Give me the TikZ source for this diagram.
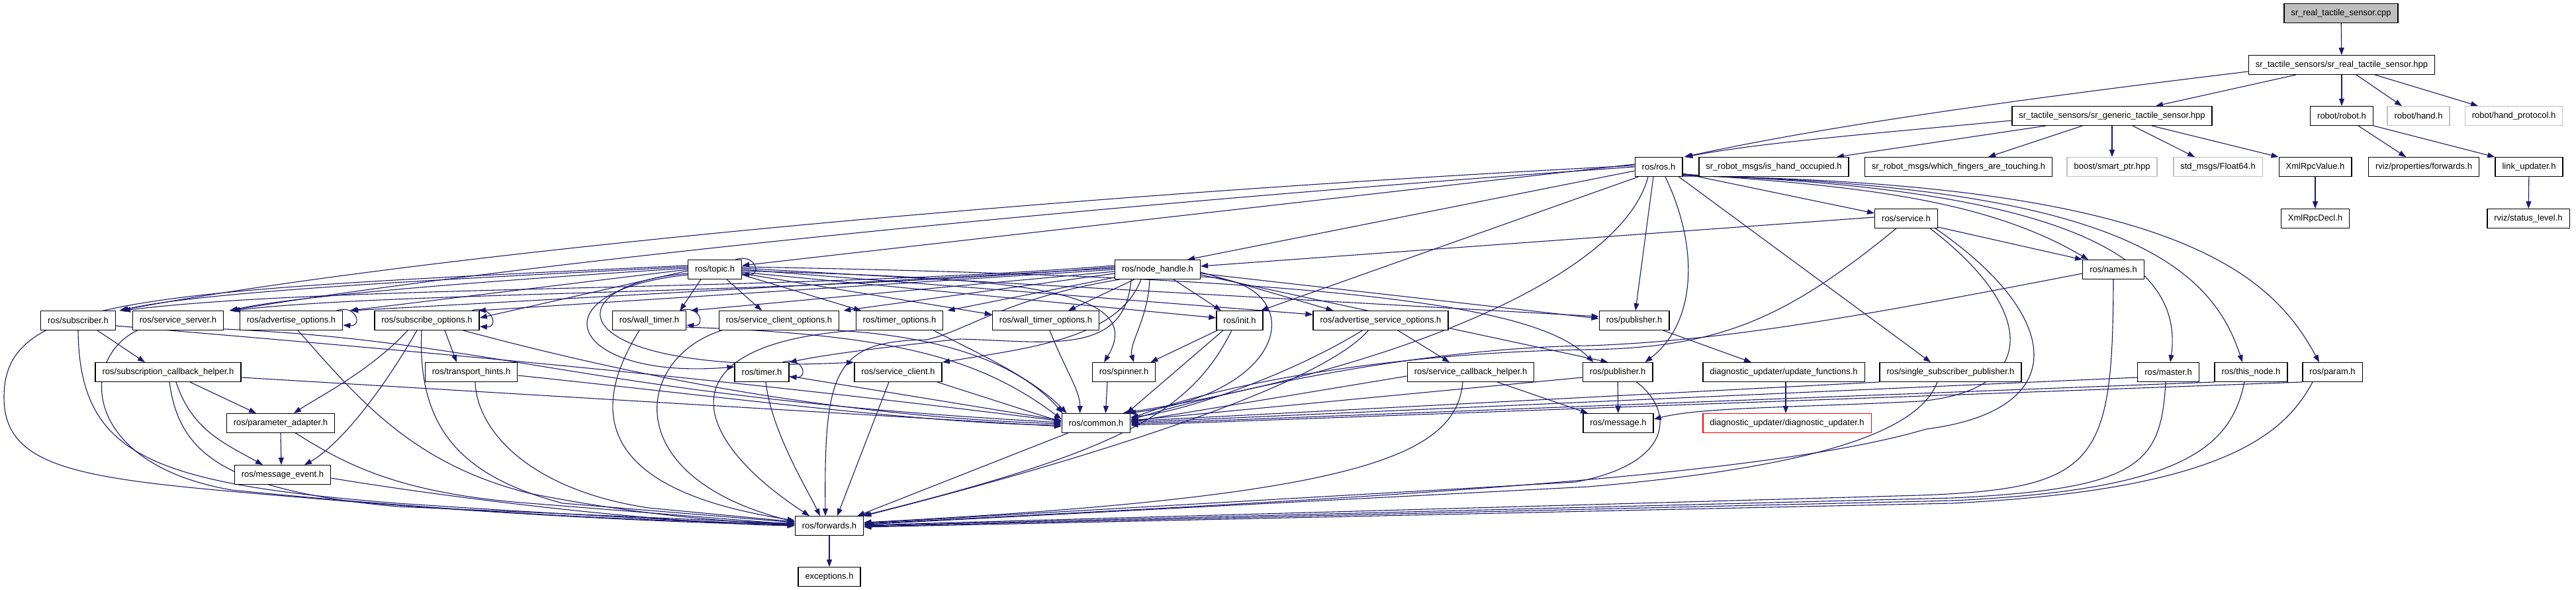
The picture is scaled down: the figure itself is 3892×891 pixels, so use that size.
\documentclass[tikz,border=0pt]{standalone}
\usepackage{fontspec}
\newfontfamily\dfont{Liberation Sans}
\usetikzlibrary{arrows.meta,calc}
\definecolor{edgeblue}{HTML}{191970}
\definecolor{boxgray}{HTML}{BFBFBF}
\pgfdeclarelayer{back}
\pgfdeclarelayer{edges}
\pgfsetlayers{back,edges,main}
\tikzset{
  nd/.style={draw=black, line width=1.4pt, fill=white, rectangle, inner xsep=10.5pt, inner ysep=0pt, minimum height=28.5pt, font=\dfont\fontsize{13}{15}\selectfont},
  grn/.style={nd, draw=boxgray},
  redn/.style={nd, draw=red},
  rootn/.style={nd, fill=boxgray},
  e/.style={draw=edgeblue, line width=1.1pt, -{Triangle[length=11pt,width=8pt]}},
}
\begin{document}
\begin{tikzpicture}[x=1pt,y=-1pt]
\useasboundingbox (0,0) rectangle (3892,891);
\begin{pgfonlayer}{back}
\fill[white] (0,0) rectangle (3892,891);
\end{pgfonlayer}
% ---------------- nodes
\node[rootn] (root) at (3537,20) {sr\_real\_tactile\_sensor.cpp};
\node[nd] (rhpp) at (3538,98) {sr\_tactile\_sensors/sr\_real\_tactile\_sensor.hpp};
\node[nd] (ghpp) at (3191,175) {sr\_tactile\_sensors/sr\_generic\_tactile\_sensor.hpp};
\node[nd] (robot) at (3538,175) {robot/robot.h};
\node[grn] (hand) at (3654,175) {robot/hand.h};
\node[grn] (handproto) at (3798,175) {robot/hand\_protocol.h};
\node[nd] (rosh) at (2506,252) {ros/ros.h};
\node[nd] (occupied) at (2680,252) {sr\_robot\_msgs/is\_hand\_occupied.h};
\node[nd] (touching) at (2959,252) {sr\_robot\_msgs/which\_fingers\_are\_touching.h};
\node[grn] (smartptr) at (3191,252) {boost/smart\_ptr.hpp};
\node[grn] (float64) at (3351,252) {std\_msgs/Float64.h};
\node[nd] (xmlval) at (3498,252) {XmlRpcValue.h};
\node[nd] (rvizfwd) at (3662,252) {rviz/properties/forwards.h};
\node[nd] (linkupd) at (3821,252) {link\_updater.h};
\node[nd] (service) at (2880,330) {ros/service.h};
\node[nd] (xmldecl) at (3498,330) {XmlRpcDecl.h};
\node[nd] (statuslvl) at (3820,330) {rviz/status\_level.h};
\node[nd] (topic) at (1080,407) {ros/topic.h};
\node[nd] (nodeh) at (1749,407) {ros/node\_handle.h};
\node[nd] (names) at (3193,407) {ros/names.h};
\node[nd] (subscriber) at (118,484) {ros/subscriber.h};
\node[nd] (servsrv) at (269,484) {ros/service\_server.h};
\node[nd] (advopt) at (440,484) {ros/advertise\_options.h};
\node[nd] (subopt) at (645,484) {ros/subscribe\_options.h};
\node[nd] (walltimer) at (981,484) {ros/wall\_timer.h};
\node[nd] (scopt) at (1177,484) {ros/service\_client\_options.h};
\node[nd] (timeropt) at (1359,484) {ros/timer\_options.h};
\node[nd] (wtopt) at (1580,484) {ros/wall\_timer\_options.h};
\node[nd] (init) at (1873,484) {ros/init.h};
\node[nd] (asopt) at (2086,484) {ros/advertise\_service\_options.h};
\node[nd] (pubup) at (2469,484) {ros/publisher.h};
\node[nd] (subcb) at (254,562) {ros/subscription\_callback\_helper.h};
\node[nd] (transport) at (712,562) {ros/transport\_hints.h};
\node[nd] (timer) at (1151,562) {ros/timer.h};
\node[nd] (sclient) at (1357,562) {ros/service\_client.h};
\node[nd] (spinner) at (1698,562) {ros/spinner.h};
\node[nd] (scbh) at (2222,562) {ros/service\_callback\_helper.h};
\node[nd] (publow) at (2444,562) {ros/publisher.h};
\node[nd] (updfn) at (2695,562) {diagnostic\_updater/update\_functions.h};
\node[nd] (singlesub) at (2947,562) {ros/single\_subscriber\_publisher.h};
\node[nd] (master) at (3276,562) {ros/master.h};
\node[nd] (thisnode) at (3401,562) {ros/this\_node.h};
\node[nd] (param) at (3524,562) {ros/param.h};
\node[nd] (paramad) at (424,639) {ros/parameter\_adapter.h};
\node[nd] (common) at (1656,639) {ros/common.h};
\node[nd] (message) at (2445,639) {ros/message.h};
\node[redn] (diagupd) at (2700,639) {diagnostic\_updater/diagnostic\_updater.h};
\node[nd] (msgevent) at (427,717) {ros/message\_event.h};
\node[nd] (forwards) at (1253,794) {ros/forwards.h};
\node[nd] (exceptions) at (1253,871) {exceptions.h};
% ---------------- edges
\begin{pgfonlayer}{edges}
% top part
\draw[e] (root) -- (rhpp);
\draw[e] ($(rhpp.west)+(0,10)$) .. controls (3050,150) and (2760,190) .. ($(rosh.north east)+(2,0)$);
\draw[e] ($(rhpp.south)+(-69,0)$) -- ($(ghpp.north)+(66,0)$);
\draw[e] (rhpp) -- (robot);
\draw[e] ($(rhpp.south)+(22,0)$) -- ($(hand.north)+(-25,0)$);
\draw[e] ($(rhpp.south)+(50,0)$) -- ($(handproto.north)+(-54,0)$);
\draw[e] ($(ghpp.west)+(0,7)$) .. controls (2850,200) and (2660,215) .. ($(rosh.north east)+(4,0)$);
\draw[e] ($(ghpp.south west)+(52,0)$) -- ($(occupied.north east)+(-19,0)$);
\draw[e] ($(ghpp.south west)+(107,0)$) -- ($(touching.north)+(45,0)$);
\draw[e] (ghpp) -- (smartptr);
\draw[e] ($(ghpp.south)+(31,0)$) -- ($(float64.north)+(-35,0)$);
\draw[e] ($(ghpp.south)+(60,0)$) -- (xmlval.north west);
\draw[e] ($(robot.south)+(25,0)$) -- ($(rvizfwd.north)+(-27,0)$);
\draw[e] (robot.south east) -- (linkupd.north west);
\draw[e] (xmlval) -- (xmldecl);
\draw[e] (linkupd) -- (statuslvl);
% ros.h
\draw[e] ($(rosh.west)+(0,-4)$) -- ($(topic.east)+(0,-6)$);
\draw[e] ($(rosh.west)+(0,-2)$) .. controls (1500,300) and (600,390) .. ($(subscriber.north east)+(5,0)$);
\draw[e] ($(rosh.west)+(0,0)$) .. controls (1500,320) and (700,410) .. ($(servsrv.north east)+(8,0)$);
\draw[e] ($(rosh.west)+(0,6)$) -- ($(nodeh.north east)+(-20,0)$);
\draw[e] ($(rosh.south west)+(6,0)$) -- ($(init.north east)+(-4,0)$);
\draw[e] ($(rosh.south)+(-16,0)$) .. controls (2450,420) and (2100,560) .. ($(common.north east)+(-12,0)$);
\draw[e] ($(rosh.south)+(-8,0)$) -- ($(pubup.north)+(2,0)$);
\draw[e] ($(rosh.south)+(10,0)$) .. controls (2570,380) and (2560,490) .. ($(publow.north east)+(-12,0)$);
\draw[e] ($(rosh.south east)+(-6,0)$) -- ($(singlesub.north)+(-30,0)$);
\draw[e] ($(rosh.east)+(0,10)$) -- ($(service.west)+(0,-8)$);
\draw[e] ($(rosh.south east)+(0,-4)$) .. controls (2800,280) and (3000,300) .. ($(names.north)+(-38,0)$);
\draw[e] ($(rosh.south east)+(0,-3)$) .. controls (3150,285) and (3300,400) .. ($(master.north)+(3,0)$);
\draw[e] ($(rosh.south east)+(0,-2)$) .. controls (3200,280) and (3340,400) .. ($(thisnode.north)+(-13,0)$);
\draw[e] ($(rosh.south east)+(0,-1)$) .. controls (3280,275) and (3430,410) .. ($(param.north)+(-20,0)$);
% service.h
\draw[e] ($(service.west)+(0,-2)$) -- ($(nodeh.east)+(0,-5)$);
\draw[e] ($(service.south east)+(0,-2)$) -- (names.north west);
\draw[e] ($(service.south)+(-15,0)$) .. controls (2700,480) and (2600,525) .. (2400,528) .. controls (2200,530) and (1900,560) .. ($(common.east)+(0,-7)$);
\draw[e] ($(service.south east)+(-4,0)$) .. controls (3120,480) and (3130,620) .. (2910,648) .. controls (2650,725) and (2000,755) .. ($(forwards.east)+(0,-3)$);
\draw[e] ($(service.south east)+(-12,0)$) .. controls (3080,470) and (3080,590) .. (2900,606) .. controls (2700,616) and (2570,615) .. ($(message.east)+(0,-6)$);
% names, master, this_node, param
\draw[e] ($(names.west)+(0,6)$) .. controls (2800,480) and (2600,515) .. (2400,522) .. controls (2150,525) and (1850,590) .. ($(common.east)+(0,-5)$);
\draw[e] (names.south) .. controls (3192,700) and (3170,738) .. (2900,748) -- ($(forwards.east)+(0,-1)$);
\draw[e] ($(master.west)+(0,8)$) -- ($(common.east)+(0,-1)$);
\draw[e] ($(master.south)+(-4,0)$) .. controls (3265,700) and (3235,738) .. (2950,752) -- ($(forwards.east)+(0,0)$);
\draw[e] (thisnode.south west) -- ($(common.east)+(0,1)$);
\draw[e] ($(thisnode.south)+(-10,0)$) .. controls (3370,680) and (3290,740) .. (2950,756) -- ($(forwards.east)+(0,1)$);
\draw[e] (param.south west) -- ($(common.east)+(0,3)$);
\draw[e] ($(param.south)+(-30,0)$) .. controls (3450,660) and (3350,740) .. (2950,760) -- ($(forwards.east)+(0,2)$);
% single_subscriber_publisher
\draw[e] (singlesub.south west) -- ($(common.east)+(0,-3)$);
\draw[e] ($(singlesub.south)+(-20,0)$) .. controls (2900,650) and (2750,705) .. (2400,735) -- ($(forwards.east)+(0,-2)$);
% publishers
\draw[e] ($(pubup.south east)+(-10,0)$) -- ($(updfn.north)+(-49,0)$);
\draw[e] ($(updfn.south)+(3,0)$) -- ($(diagupd.north)+(-2,0)$);
\draw[e] (publow) -- (message);
\draw[e] ($(publow.west)+(0,8)$) -- ($(common.east)+(0,-4)$);
\draw[e] ($(publow.south east)+(-25,0)$) .. controls (2530,620) and (2530,700) .. (2380,728) -- ($(forwards.east)+(0,-4)$);
% service_callback_helper
\draw[e] ($(scbh.south)+(40,0)$) -- ($(message.north west)+(8,0)$);
\draw[e] ($(scbh.west)+(0,6)$) -- ($(common.east)+(0,-2)$);
\draw[e] ($(scbh.south)+(-12,0)$) .. controls (2200,690) and (2050,750) .. ($(forwards.east)+(0,-5)$);
% advertise_service_options
\draw[e] ($(asopt.south)+(26,0)$) -- ($(scbh.north)+(-32,0)$);
\draw[e] ($(asopt.south west)+(75,0)$) .. controls (1960,560) and (1800,620) .. ($(common.east)+(0,-9)$);
\draw[e] ($(asopt.south west)+(84,0)$) .. controls (1980,600) and (1500,730) .. (forwards.north east);
% init, spinner
\draw[e] ($(init.south west)+(2,0)$) -- ($(spinner.north east)+(-8,0)$);
\draw[e] ($(init.south)+(-25,0)$) -- ($(common.north east)+(-6,0)$);
\draw[e] ($(init.south)+(-12,0)$) .. controls (1800,620) and (1700,680) .. ($(forwards.north east)+(-3,0)$);
\draw[e] ($(spinner.south)+(-25,0)$) -- ($(common.north east)+(-38,0)$);
% timer, service_client
\draw[e] ($(timer.south)+(6,0)$) .. controls (1165,650) and (1220,740) .. ($(forwards.north)+(-14,0)$);
\draw[e] ($(timer.east)+(0,6)$) -- ($(common.west)+(0,-4)$);
\draw[e] ($(timer.north east)+(-10,0)$) .. controls +(30,-10) and +(30,2) .. ($(timer.east)+(0,7)$);
\draw[e] ($(sclient.south)+(-14,0)$) -- ($(forwards.north)+(12,0)$);
\draw[e] ($(sclient.south east)+(-8,0)$) -- ($(common.west)+(0,-2)$);
% options
\draw[e] ($(wtopt.south)+(6,0)$) .. controls (1610,560) and (1632,590) .. ($(common.north west)+(28,0)$);
\draw[e] ($(timeropt.south east)+(-15,0)$) .. controls (1470,530) and (1560,570) .. ($(common.north west)+(8,0)$);
\draw[e] (timeropt.south west) .. controls (1000,520) and (1040,660) .. ($(forwards.north)+(-30,0)$);
\draw[e] ($(scopt.south east)+(-3,0)$) .. controls (1450,510) and (1550,560) .. ($(common.north west)+(2,0)$);
\draw[e] ($(scopt.south west)+(5,0)$) .. controls (960,540) and (930,720) .. ($(forwards.west)+(0,-6)$);
% wall_timer
\draw[e] ($(walltimer.east)+(0,10)$) .. controls (1350,505) and (1480,540) .. ($(common.west)+(0,-6)$);
\draw[e] ($(walltimer.south)+(-15,0)$) .. controls (890,620) and (900,740) .. ($(forwards.west)+(0,-8)$);
\draw[e] ($(walltimer.north east)+(-10,0)$) .. controls +(30,-10) and +(30,2) .. ($(walltimer.east)+(0,7)$);
% topic.h
\draw[e] ($(topic.north east)+(-10,0)$) .. controls +(30,-10) and +(30,2) .. ($(topic.east)+(0,7)$);
\draw[e] ($(topic.south west)+(20,0)$) -- ($(walltimer.north east)+(-10,0)$);
\draw[e] ($(topic.south)+(18,0)$) -- ($(scopt.north)+(-26,0)$);
\draw[e] ($(topic.east)+(0,8)$) -- ($(timeropt.north)+(-58,0)$);
\draw[e] ($(topic.east)+(0,6)$) -- ($(wtopt.west)+(0,-9)$);
\draw[e] ($(topic.east)+(0,4)$) -- ($(init.west)+(0,-4)$);
\draw[e] ($(topic.east)+(0,2)$) .. controls (1500,420) and (1740,430) .. ($(spinner.north)+(-30,0)$);
\draw[e] ($(topic.east)+(0,0)$) -- ($(asopt.west)+(0,-9)$);
\draw[e] ($(topic.east)+(0,-2)$) -- ($(pubup.west)+(0,-6)$);
\draw[e] ($(topic.east)+(0,-4)$) .. controls (2100,420) and (2330,470) .. ($(publow.north west)+(17,0)$);
\draw[e] ($(topic.west)+(0,-4)$) .. controls (700,420) and (300,440) .. ($(subscriber.north east)+(8,0)$);
\draw[e] ($(topic.west)+(0,-2)$) .. controls (800,420) and (450,445) .. ($(servsrv.north east)+(10,0)$);
\draw[e] ($(topic.west)+(0,0)$) -- ($(advopt.north east)+(10,0)$);
\draw[e] ($(topic.west)+(0,2)$) -- ($(subopt.east)+(0,-4)$);
\draw[e] ($(topic.west)+(0,8)$) .. controls (800,440) and (860,575) .. ($(timer.west)+(0,-8)$);
\draw[e] ($(topic.west)+(0,6)$) .. controls (830,430) and (840,570) .. (sclient.north west);
\draw[e] ($(topic.west)+(0,-6)$) .. controls (200,440) and (6,450) .. (6,600) .. controls (6,720) and (150,725) .. (500,755) .. controls (800,780) and (1050,790) .. ($(forwards.west)+(0,-1)$);
% node_handle.h
\draw[e] ($(nodeh.west)+(0,-6)$) .. controls (1200,440) and (500,430) .. ($(subscriber.north east)+(11,0)$);
\draw[e] ($(nodeh.west)+(0,-4)$) .. controls (1200,445) and (600,440) .. ($(servsrv.north east)+(13,0)$);
\draw[e] ($(nodeh.west)+(0,-2)$) -- ($(advopt.north east)+(12,0)$);
\draw[e] ($(nodeh.west)+(0,0)$) -- ($(subopt.north east)+(-2,0)$);
\draw[e] ($(nodeh.west)+(0,3)$) -- ($(walltimer.north east)+(6,0)$);
\draw[e] ($(nodeh.west)+(0,6)$) -- ($(scopt.north east)+(6,0)$);
\draw[e] ($(nodeh.south west)+(0,-3)$) -- ($(timeropt.north east)+(6,0)$);
\draw[e] ($(nodeh.south)+(-35,0)$) -- ($(wtopt.north)+(34,0)$);
\draw[e] ($(nodeh.south)+(24,0)$) -- ($(init.north)+(-28,0)$);
\draw[e] ($(nodeh.south)+(-12,0)$) .. controls (1735,480) and (1705,520) .. ($(spinner.north)+(15,0)$);
\draw[e] ($(nodeh.east)+(0,4)$) -- ($(asopt.north west)+(31,0)$);
\draw[e] ($(nodeh.east)+(0,6)$) -- ($(pubup.west)+(0,-3)$);
\draw[e] ($(nodeh.east)+(0,8)$) -- ($(publow.north west)+(39,0)$);
\draw[e] ($(nodeh.east)+(0,11)$) .. controls (1975,420) and (1965,590) .. ($(common.north east)+(-3,0)$);
\draw[e] ($(nodeh.south west)+(8,0)$) .. controls (1520,450) and (1460,500) .. (1400,513) .. controls (1260,515) and (1245,560) .. ($(forwards.north)+(-6,0)$);
\draw[e] ($(nodeh.south)+(-40,0)$) .. controls (1700,540) and (1580,515) .. (1450,512) .. controls (1330,525) and (1250,535) .. (timer.north east);
\draw[e] ($(nodeh.south)+(-25,0)$) .. controls (1690,510) and (1560,525) .. (sclient.north east);
% left part
\draw[e] ($(subscriber.south)+(29,0)$) -- ($(subcb.north)+(-35,0)$);
\draw[e] (subscriber.south) .. controls (120,690) and (230,730) .. (600,760) .. controls (900,780) and (1100,790) .. ($(forwards.west)+(0,-2)$);
\draw[e] ($(subscriber.east)+(0,8)$) .. controls (500,520) and (1000,560) .. ($(common.west)+(0,-3)$);
\draw[e] ($(servsrv.south west)+(8,0)$) .. controls (120,540) and (120,700) .. (350,740) .. controls (700,775) and (1000,788) .. ($(forwards.west)+(0,-3)$);
\draw[e] ($(servsrv.south east)+(0,-2)$) .. controls (750,515) and (900,600) .. ($(common.west)+(0,-1)$);
\draw[e] ($(advopt.north east)+(-10,0)$) .. controls +(30,-10) and +(30,2) .. ($(advopt.east)+(0,7)$);
\draw[e] ($(advopt.south)+(10,0)$) .. controls (540,600) and (620,700) .. (800,745) .. controls (950,775) and (1100,790) .. ($(forwards.west)+(0,-4)$);
\draw[e] ($(subopt.north east)+(-12,0)$) .. controls +(30,-10) and +(30,2) .. ($(subopt.east)+(0,9)$);
\draw[e] ($(subopt.south)+(27,0)$) -- ($(transport.north)+(-22,0)$);
\draw[e] ($(subopt.south)+(-29,0)$) .. controls (560,560) and (480,600) .. ($(paramad.north)+(20,0)$);
\draw[e] ($(subopt.south)+(-15,0)$) .. controls (560,620) and (500,680) .. ($(msgevent.north)+(33,0)$);
\draw[e] ($(subopt.south)+(-8,0)$) .. controls (630,650) and (700,720) .. (850,760) -- ($(forwards.west)+(0,-5)$);
\draw[e] ($(subopt.south east)+(-25,0)$) .. controls (1000,580) and (1300,630) .. ($(common.west)+(0,1)$);
\draw[e] ($(transport.east)+(0,5)$) .. controls (1100,600) and (1400,640) .. ($(common.west)+(0,3)$);
\draw[e] ($(transport.south)+(6,0)$) .. controls (720,650) and (800,740) .. (980,767) -- ($(forwards.west)+(0,-6)$);
\draw[e] ($(subcb.south)+(33,0)$) -- ($(paramad.north)+(-37,0)$);
\draw[e] ($(subcb.south)+(12,0)$) .. controls (290,650) and (340,670) .. ($(msgevent.north)+(-30,0)$);
\draw[e] ($(subcb.south)+(2,0)$) .. controls (270,680) and (330,740) .. (600,765) -- ($(forwards.west)+(0,-3)$);
\draw[e] ($(subcb.east)+(0,8)$) -- ($(common.west)+(0,5)$);
\draw[e] ($(paramad.south)+(0,0)$) -- ($(msgevent.north)+(-2,0)$);
\draw[e] ($(paramad.south east)+(-60,0)$) .. controls (520,700) and (600,745) .. (800,760) -- ($(forwards.west)+(0,-2)$);
\draw[e] ($(msgevent.east)+(0,5)$) .. controls (700,755) and (1000,790) .. ($(forwards.west)+(0,0)$);
% bottom
\draw[e] ($(common.south west)+(10,0)$) -- ($(forwards.north east)+(-10,0)$);
\draw[e] (forwards) -- (exceptions);
\end{pgfonlayer}
\end{tikzpicture}
\end{document}
